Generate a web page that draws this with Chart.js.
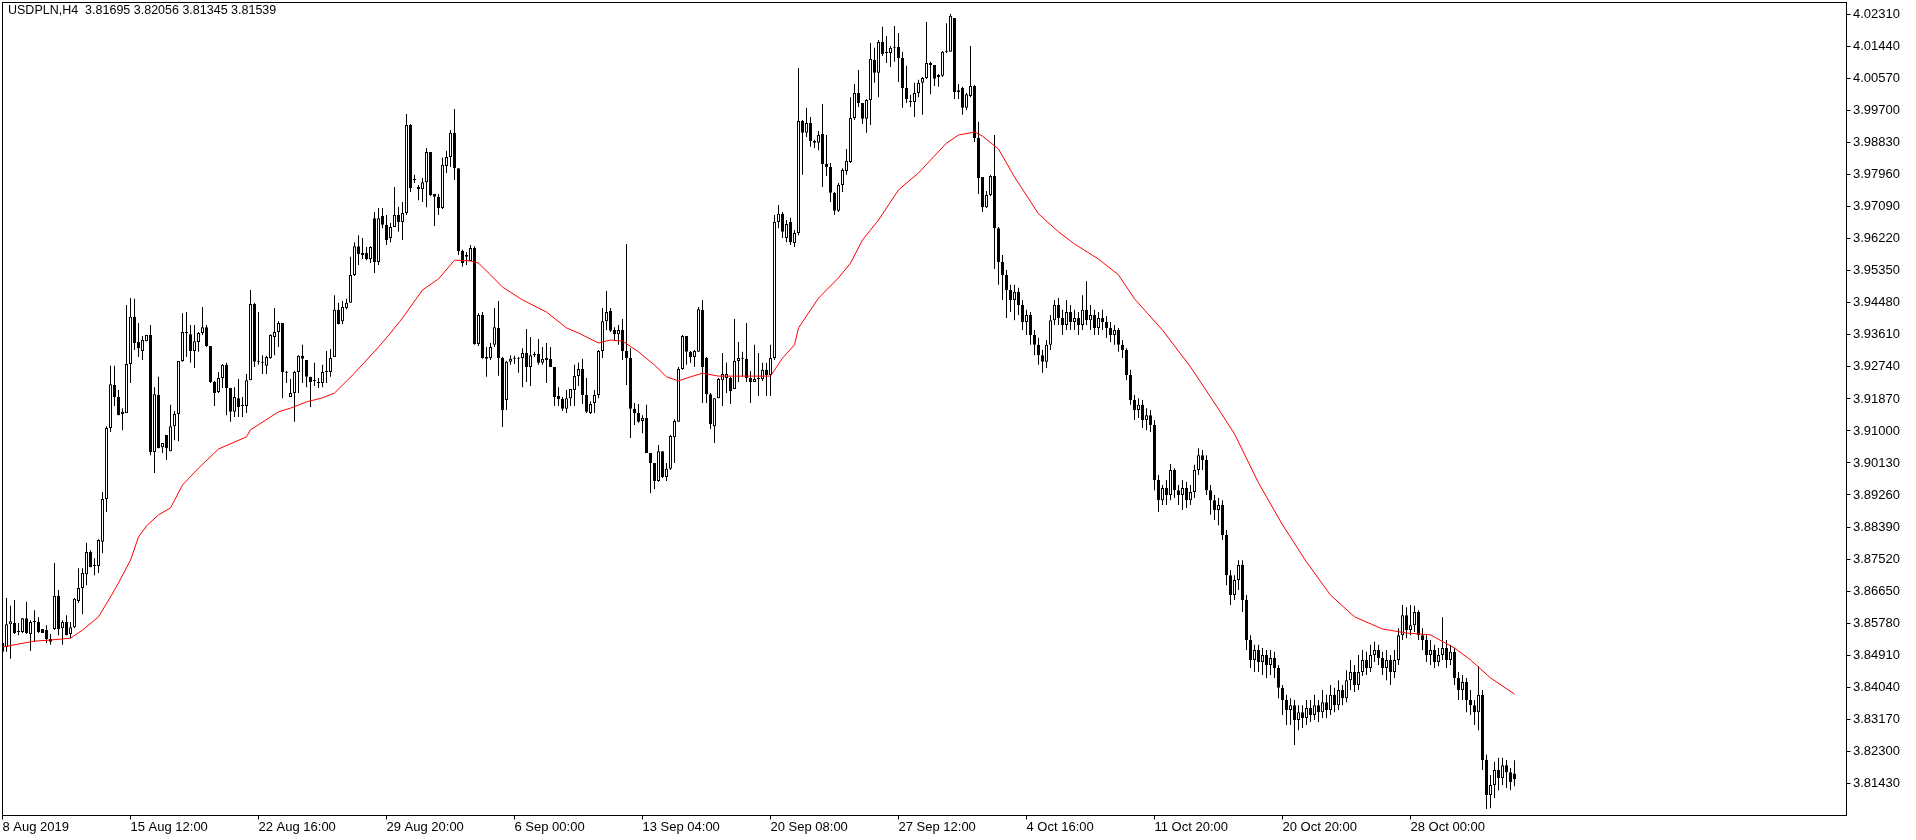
<!DOCTYPE html>
<html>
<head>
<meta charset="utf-8">
<title>USDPLN,H4</title>
<script src="https://cdn.jsdelivr.net/npm/chart.js@4.4.0/dist/chart.umd.min.js"></script>
<style>
  html, body { margin: 0; padding: 0; background: #fff; }
  canvas { display: block; }
</style>
</head>
<body>
<canvas id="chart" width="1916" height="840"></canvas>
<script>
const symbolTitle = "USDPLN,H4  3.81695 3.82056 3.81345 3.81539";

// H4 bars, oldest first (bar 0 sits on the left edge)
const opens = [
  3.8524, 3.8513, 3.8575, 3.8578, 3.8556, 3.8554, 3.8591, 3.8548, 3.8581, 3.8581,
  3.8562, 3.8559, 3.8535, 3.8562, 3.8652, 3.8564, 3.8581, 3.8548, 3.8567, 3.8638,
  3.8673, 3.8711, 3.8771, 3.8733, 3.8733, 3.8799, 3.8915, 3.9108, 3.9225, 3.9192,
  3.9146, 3.9149, 3.9282, 3.9410, 3.9342, 3.9317, 3.9344, 3.9361, 3.9043, 3.9198,
  3.9056, 3.9089, 3.9045, 3.9113, 3.9146, 3.9290, 3.9369, 3.9363, 3.9317, 3.9342,
  3.9366, 3.9382, 3.9331, 3.9233, 3.9206, 3.9244, 3.9280, 3.9217, 3.9152, 3.9189,
  3.9168, 3.9168, 3.9238, 3.9445, 3.9288, 3.9288, 3.9277, 3.9298, 3.9355, 3.9369,
  3.9393, 3.9260, 3.9192, 3.9203, 3.9260, 3.9304, 3.9293, 3.9247, 3.9236, 3.9233,
  3.9230, 3.9260, 3.9260, 3.9301, 3.9429, 3.9398, 3.9434, 3.9448, 3.9524, 3.9602,
  3.9584, 3.9584, 3.9567, 3.9678, 3.9559, 3.9684, 3.9660, 3.9624, 3.9654, 3.9687,
  3.9668, 3.9692, 3.9931, 3.9782, 3.9763, 3.9757, 3.9776, 3.9858, 3.9744, 3.9736,
  3.9706, 3.9820, 3.9844, 3.9910, 3.9814, 3.9589, 3.9578, 3.9562, 3.9597, 3.9336,
  3.9415, 3.9296, 3.9298, 3.9334, 3.9380, 3.9298, 3.9184, 3.9288, 3.9296, 3.9296,
  3.9298, 3.9312, 3.9274, 3.9306, 3.9309, 3.9285, 3.9293, 3.9296, 3.9274, 3.9195,
  3.9187, 3.9160, 3.9189, 3.9211, 3.9249, 3.9268, 3.9198, 3.9149, 3.9176, 3.9198,
  3.9317, 3.9398, 3.9426, 3.9374, 3.9363, 3.9374, 3.9317, 3.9298, 3.9160, 3.9149,
  3.9127, 3.9135, 3.9040, 3.9013, 3.8964, 3.9045, 3.8975, 3.8997, 3.9083, 3.9125,
  3.9268, 3.9358, 3.9315, 3.9301, 3.9315, 3.9429, 3.9298, 3.9200, 3.9113, 3.9189,
  3.9238, 3.9244, 3.9244, 3.9214, 3.9290, 3.9296, 3.9296, 3.9244, 3.9233, 3.9241,
  3.9241, 3.9266, 3.9252, 3.9298, 3.9668, 3.9690, 3.9624, 3.9668, 3.9611, 3.9638,
  3.9942, 3.9910, 3.9937, 3.9888, 3.9883, 3.9907, 3.9825, 3.9817, 3.9747, 3.9698,
  3.9768, 3.9806, 3.9831, 3.9950, 4.0018, 3.9991, 3.9948, 3.9999, 4.0108, 4.0073,
  4.0157, 4.0127, 4.0127, 4.0141, 4.0143, 4.0113, 4.0032, 3.9994, 3.9994, 4.0018,
  4.0046, 4.0059, 4.0100, 4.0094, 4.0062, 4.0065, 4.0130, 4.0130, 4.0222, 4.0026,
  4.0032, 3.9978, 4.0010, 4.0037, 3.9896, 3.9790, 3.9708, 3.9741, 3.9793, 3.9651,
  3.9559, 3.9524, 3.9483, 3.9456, 3.9478, 3.9442, 3.9396, 3.9415, 3.9361, 3.9334,
  3.9306, 3.9288, 3.9334, 3.9401, 3.9442, 3.9407, 3.9388, 3.9423, 3.9396, 3.9407,
  3.9388, 3.9429, 3.9401, 3.9415, 3.9380, 3.9407, 3.9396, 3.9380, 3.9361, 3.9374,
  3.9334, 3.9320, 3.9252, 3.9184, 3.9157, 3.9171, 3.9130, 3.9143, 3.9116, 3.8967,
  3.8912, 3.8945, 3.8926, 3.8994, 3.8939, 3.8926, 3.8945, 3.8912, 3.8934, 3.8994,
  3.9034, 3.9021, 3.8939, 3.8912, 3.8885, 3.8899, 3.8817, 3.8708, 3.8654, 3.8695,
  3.8736, 3.8641, 3.8532, 3.8478, 3.8505, 3.8472, 3.8491, 3.8464, 3.8483, 3.8456,
  3.8402, 3.8369, 3.8342, 3.8355, 3.8315, 3.8336, 3.8320, 3.8347, 3.8328, 3.8355,
  3.8336, 3.8363, 3.8342, 3.8383, 3.8355, 3.8396, 3.8374, 3.8423, 3.8445, 3.8410,
  3.8445, 3.8478, 3.8456, 3.8491, 3.8505, 3.8483, 3.8456, 3.8478, 3.8445, 3.8478,
  3.8545, 3.8599, 3.8559, 3.8572, 3.8608, 3.8545, 3.8532, 3.8491, 3.8505, 3.8472,
  3.8491, 3.8510, 3.8478, 3.8500, 3.8429, 3.8396, 3.8418, 3.8369, 3.8355, 3.8336,
  3.8383, 3.8206, 3.8111, 3.8138, 3.8179, 3.8157, 3.8192, 3.8173, 3.81695
];
const highs = [
  3.8529, 3.8646, 3.8625, 3.8641, 3.8578, 3.8591, 3.8636, 3.8586, 3.8613, 3.8594,
  3.8562, 3.8572, 3.8548, 3.8741, 3.8668, 3.8586, 3.8599, 3.8581, 3.8646, 3.8727,
  3.8727, 3.8796, 3.8776, 3.8754, 3.8806, 3.8934, 3.9113, 3.9277, 3.9277, 3.9211,
  3.9162, 3.9442, 3.9461, 3.9459, 3.9393, 3.9358, 3.9361, 3.9388, 3.9219, 3.9247,
  3.9067, 3.9089, 3.9171, 3.9154, 3.9290, 3.9420, 3.9423, 3.9388, 3.9388, 3.9369,
  3.9437, 3.9388, 3.9331, 3.9236, 3.9260, 3.9282, 3.9285, 3.9217, 3.9219, 3.9241,
  3.9192, 3.9255, 3.9483, 3.9448, 3.9423, 3.9306, 3.9304, 3.9363, 3.9434, 3.9398,
  3.9393, 3.9263, 3.9241, 3.9263, 3.9306, 3.9334, 3.9293, 3.9247, 3.9285, 3.9244,
  3.9280, 3.9317, 3.9323, 3.9469, 3.9448, 3.9453, 3.9459, 3.9573, 3.9613, 3.9632,
  3.9624, 3.9600, 3.9602, 3.9695, 3.9706, 3.9706, 3.9687, 3.9665, 3.9763, 3.9709,
  3.9722, 3.9961, 3.9934, 3.9796, 3.9768, 3.9787, 3.9869, 3.9858, 3.9744, 3.9744,
  3.9842, 3.9861, 3.9918, 3.9975, 3.9814, 3.9592, 3.9586, 3.9605, 3.9602, 3.9420,
  3.9423, 3.9328, 3.9339, 3.9434, 3.9453, 3.9301, 3.9290, 3.9306, 3.9304, 3.9301,
  3.9325, 3.9377, 3.9355, 3.9315, 3.9350, 3.9328, 3.9339, 3.9328, 3.9274, 3.9219,
  3.9192, 3.9211, 3.9214, 3.9280, 3.9285, 3.9296, 3.9244, 3.9181, 3.9211, 3.9320,
  3.9434, 3.9480, 3.9434, 3.9382, 3.9388, 3.9404, 3.9608, 3.9325, 3.9176, 3.9173,
  3.9143, 3.9171, 3.9040, 3.9013, 3.9062, 3.9045, 3.9013, 3.9089, 3.9132, 3.9274,
  3.9361, 3.9358, 3.9317, 3.9320, 3.9437, 3.9456, 3.9301, 3.9203, 3.9189, 3.9244,
  3.9312, 3.9285, 3.9247, 3.9404, 3.9342, 3.9315, 3.9393, 3.9263, 3.9334, 3.9312,
  3.9285, 3.9285, 3.9334, 3.9687, 3.9714, 3.9695, 3.9673, 3.9679, 3.9646, 4.0086,
  3.9945, 3.9978, 3.9953, 3.9891, 3.9915, 3.9988, 3.9904, 3.9828, 3.9749, 3.9774,
  3.9814, 3.9866, 4.0007, 4.0043, 4.0081, 3.9991, 4.0002, 4.0154, 4.0141, 4.0162,
  4.0198, 4.0173, 4.0146, 4.0200, 4.0181, 4.0130, 4.0092, 4.0013, 4.0046, 4.0054,
  4.0062, 4.0211, 4.0103, 4.0094, 4.0070, 4.0132, 4.0208, 4.0233, 4.0222, 4.0043,
  4.0035, 4.0018, 4.0146, 4.0040, 3.9940, 3.9790, 3.9752, 3.9796, 3.9904, 3.9654,
  3.9578, 3.9537, 3.9497, 3.9497, 3.9489, 3.9456, 3.9429, 3.9423, 3.9374, 3.9353,
  3.9320, 3.9347, 3.9415, 3.9456, 3.9461, 3.9429, 3.9456, 3.9442, 3.9429, 3.9423,
  3.9469, 3.9507, 3.9442, 3.9429, 3.9423, 3.9429, 3.9412, 3.9396, 3.9388, 3.9380,
  3.9347, 3.9325, 3.9266, 3.9198, 3.9189, 3.9184, 3.9162, 3.9157, 3.9130, 3.8980,
  3.8953, 3.8967, 3.9010, 3.8999, 3.8953, 3.8967, 3.8961, 3.8953, 3.9008, 3.9053,
  3.9048, 3.9034, 3.8953, 3.8926, 3.8918, 3.8912, 3.8831, 3.8722, 3.8708, 3.8749,
  3.8749, 3.8654, 3.8545, 3.8519, 3.8519, 3.8510, 3.8505, 3.8505, 3.8500, 3.8464,
  3.8410, 3.8383, 3.8374, 3.8369, 3.8355, 3.8355, 3.8369, 3.8369, 3.8383, 3.8369,
  3.8396, 3.8383, 3.8410, 3.8402, 3.8423, 3.8410, 3.8450, 3.8478, 3.8464, 3.8491,
  3.8505, 3.8500, 3.8519, 3.8527, 3.8519, 3.8500, 3.8505, 3.8491, 3.8505, 3.8564,
  3.8627, 3.8621, 3.8627, 3.8625, 3.8613, 3.8564, 3.8545, 3.8532, 3.8519, 3.8510,
  3.8594, 3.8532, 3.8519, 3.8510, 3.8445, 3.8437, 3.8429, 3.8396, 3.8369, 3.8461,
  3.8396, 3.8220, 3.8165, 3.8201, 3.8212, 3.8212, 3.8206, 3.8184, 3.82056
];
const lows = [
  3.8494, 3.8500, 3.8481, 3.8548, 3.8545, 3.8551, 3.8548, 3.8502, 3.8527, 3.8551,
  3.8551, 3.8524, 3.8519, 3.8559, 3.8545, 3.8519, 3.8545, 3.8537, 3.8564, 3.8633,
  3.8602, 3.8681, 3.8730, 3.8708, 3.8714, 3.8768, 3.8880, 3.9097, 3.9168, 3.9143,
  3.9102, 3.9149, 3.9230, 3.9320, 3.9301, 3.9293, 3.9344, 3.9034, 3.8986, 3.9053,
  3.9040, 3.9021, 3.9045, 3.9075, 3.9072, 3.9288, 3.9301, 3.9285, 3.9271, 3.9315,
  3.9361, 3.9328, 3.9230, 3.9168, 3.9203, 3.9217, 3.9143, 3.9125, 3.9138, 3.9138,
  3.9138, 3.9149, 3.9238, 3.9274, 3.9280, 3.9255, 3.9255, 3.9296, 3.9306, 3.9328,
  3.9189, 3.9230, 3.9192, 3.9125, 3.9203, 3.9230, 3.9219, 3.9165, 3.9222, 3.9217,
  3.9219, 3.9230, 3.9247, 3.9301, 3.9390, 3.9390, 3.9431, 3.9448, 3.9521, 3.9551,
  3.9567, 3.9564, 3.9556, 3.9529, 3.9551, 3.9651, 3.9605, 3.9613, 3.9654, 3.9641,
  3.9619, 3.9687, 3.9749, 3.9774, 3.9727, 3.9722, 3.9708, 3.9738, 3.9657, 3.9687,
  3.9703, 3.9801, 3.9817, 3.9782, 3.9578, 3.9546, 3.9551, 3.9562, 3.9334, 3.9331,
  3.9296, 3.9247, 3.9293, 3.9328, 3.9250, 3.9111, 3.9157, 3.9280, 3.9282, 3.9258,
  3.9219, 3.9233, 3.9222, 3.9301, 3.9280, 3.9280, 3.9230, 3.9274, 3.9168, 3.9168,
  3.9154, 3.9149, 3.9168, 3.9168, 3.9222, 3.9173, 3.9149, 3.9146, 3.9149, 3.9189,
  3.9298, 3.9374, 3.9369, 3.9347, 3.9334, 3.9293, 3.9225, 3.9081, 3.9116, 3.9122,
  3.9094, 3.9040, 3.8931, 3.8942, 3.8962, 3.8972, 3.8964, 3.8994, 3.9013, 3.9125,
  3.9266, 3.9280, 3.9285, 3.9274, 3.9315, 3.9176, 3.9176, 3.9105, 3.9067, 3.9189,
  3.9168, 3.9203, 3.9173, 3.9214, 3.9233, 3.9247, 3.9233, 3.9176, 3.9233, 3.9195,
  3.9236, 3.9195, 3.9195, 3.9293, 3.9651, 3.9624, 3.9613, 3.9605, 3.9600, 3.9632,
  3.9796, 3.9899, 3.9872, 3.9869, 3.9863, 3.9763, 3.9793, 3.9722, 3.9687, 3.9695,
  3.9749, 3.9796, 3.9828, 3.9945, 3.9980, 3.9934, 3.9910, 3.9931, 4.0046, 4.0007,
  4.0119, 4.0100, 4.0089, 4.0103, 4.0048, 3.9978, 3.9991, 3.9980, 3.9953, 4.0007,
  3.9959, 4.0057, 4.0015, 4.0037, 4.0035, 4.0062, 4.0127, 4.0130, 4.0002, 4.0002,
  3.9959, 3.9972, 4.0007, 3.9885, 3.9744, 3.9695, 3.9706, 3.9738, 3.9540, 3.9497,
  3.9456, 3.9407, 3.9423, 3.9401, 3.9415, 3.9374, 3.9361, 3.9334, 3.9306, 3.9280,
  3.9258, 3.9271, 3.9320, 3.9388, 3.9388, 3.9361, 3.9374, 3.9374, 3.9374, 3.9361,
  3.9374, 3.9388, 3.9374, 3.9361, 3.9361, 3.9374, 3.9353, 3.9342, 3.9334, 3.9315,
  3.9298, 3.9238, 3.9171, 3.9130, 3.9135, 3.9108, 3.9102, 3.9097, 3.8939, 3.8880,
  3.8899, 3.8899, 3.8912, 3.8918, 3.8899, 3.8885, 3.8891, 3.8899, 3.8918, 3.8980,
  3.8994, 3.8926, 3.8872, 3.8858, 3.8844, 3.8804, 3.8681, 3.8627, 3.8641, 3.8668,
  3.8608, 3.8505, 3.8456, 3.8445, 3.8445, 3.8437, 3.8429, 3.8437, 3.8429, 3.8374,
  3.8328, 3.8301, 3.8301, 3.8247, 3.8287, 3.8293, 3.8301, 3.8309, 3.8315, 3.8309,
  3.8320, 3.8320, 3.8328, 3.8336, 3.8342, 3.8355, 3.8363, 3.8396, 3.8391, 3.8396,
  3.8434, 3.8437, 3.8445, 3.8472, 3.8464, 3.8437, 3.8423, 3.8410, 3.8429, 3.8464,
  3.8532, 3.8537, 3.8545, 3.8554, 3.8532, 3.8505, 3.8472, 3.8464, 3.8456, 3.8461,
  3.8478, 3.8456, 3.8464, 3.8410, 3.8369, 3.8369, 3.8336, 3.8328, 3.8301, 3.8287,
  3.8179, 3.8073, 3.8075, 3.8103, 3.8124, 3.8138, 3.8130, 3.8124, 3.81345
];
const closes = [
  3.8500, 3.8575, 3.8583, 3.8551, 3.8554, 3.8591, 3.8551, 3.8581, 3.8581, 3.8554,
  3.8551, 3.8535, 3.8527, 3.8652, 3.8562, 3.8581, 3.8545, 3.8567, 3.8644, 3.8673,
  3.8714, 3.8771, 3.8730, 3.8733, 3.8804, 3.8915, 3.9108, 3.9227, 3.9192, 3.9143,
  3.9152, 3.9282, 3.9410, 3.9339, 3.9325, 3.9347, 3.9361, 3.9043, 3.9200, 3.9053,
  3.9067, 3.9053, 3.9113, 3.9146, 3.9290, 3.9369, 3.9366, 3.9317, 3.9344, 3.9366,
  3.9382, 3.9331, 3.9233, 3.9203, 3.9244, 3.9280, 3.9217, 3.9152, 3.9192, 3.9165,
  3.9168, 3.9238, 3.9445, 3.9288, 3.9288, 3.9285, 3.9301, 3.9361, 3.9369, 3.9393,
  3.9260, 3.9258, 3.9203, 3.9260, 3.9304, 3.9296, 3.9247, 3.9233, 3.9236, 3.9230,
  3.9260, 3.9263, 3.9298, 3.9429, 3.9390, 3.9437, 3.9448, 3.9524, 3.9602, 3.9581,
  3.9578, 3.9567, 3.9600, 3.9559, 3.9678, 3.9660, 3.9619, 3.9654, 3.9687, 3.9668,
  3.9692, 3.9931, 3.9760, 3.9782, 3.9757, 3.9776, 3.9858, 3.9741, 3.9736, 3.9706,
  3.9823, 3.9844, 3.9910, 3.9814, 3.9589, 3.9556, 3.9573, 3.9597, 3.9336, 3.9415,
  3.9298, 3.9301, 3.9328, 3.9382, 3.9298, 3.9157, 3.9288, 3.9296, 3.9298, 3.9298,
  3.9312, 3.9274, 3.9306, 3.9309, 3.9285, 3.9296, 3.9298, 3.9274, 3.9192, 3.9187,
  3.9160, 3.9189, 3.9214, 3.9249, 3.9268, 3.9198, 3.9152, 3.9173, 3.9198, 3.9317,
  3.9398, 3.9423, 3.9372, 3.9363, 3.9374, 3.9317, 3.9298, 3.9160, 3.9149, 3.9125,
  3.9135, 3.9040, 3.9013, 3.8964, 3.9045, 3.8975, 3.8997, 3.9086, 3.9127, 3.9268,
  3.9358, 3.9315, 3.9301, 3.9317, 3.9431, 3.9274, 3.9200, 3.9119, 3.9189, 3.9241,
  3.9255, 3.9255, 3.9208, 3.9290, 3.9298, 3.9298, 3.9244, 3.9233, 3.9241, 3.9241,
  3.9266, 3.9252, 3.9298, 3.9668, 3.9690, 3.9641, 3.9662, 3.9613, 3.9638, 3.9942,
  3.9910, 3.9937, 3.9888, 3.9883, 3.9904, 3.9825, 3.9817, 3.9747, 3.9698, 3.9768,
  3.9809, 3.9834, 3.9950, 4.0018, 3.9991, 3.9948, 3.9999, 4.0111, 4.0073, 4.0157,
  4.0124, 4.0127, 4.0141, 4.0143, 4.0113, 4.0032, 4.0002, 3.9994, 4.0018, 4.0046,
  4.0059, 4.0100, 4.0094, 4.0057, 4.0067, 4.0130, 4.0132, 4.0228, 4.0021, 4.0021,
  3.9978, 4.0015, 4.0037, 3.9896, 3.9787, 3.9708, 3.9741, 3.9793, 3.9651, 3.9559,
  3.9524, 3.9483, 3.9456, 3.9478, 3.9442, 3.9396, 3.9415, 3.9361, 3.9334, 3.9306,
  3.9288, 3.9334, 3.9401, 3.9442, 3.9407, 3.9388, 3.9423, 3.9396, 3.9407, 3.9388,
  3.9429, 3.9401, 3.9415, 3.9380, 3.9407, 3.9396, 3.9380, 3.9361, 3.9374, 3.9334,
  3.9320, 3.9252, 3.9184, 3.9157, 3.9171, 3.9130, 3.9143, 3.9116, 3.8967, 3.8912,
  3.8945, 3.8926, 3.8994, 3.8939, 3.8926, 3.8945, 3.8912, 3.8934, 3.8994, 3.9034,
  3.9021, 3.8939, 3.8912, 3.8885, 3.8899, 3.8817, 3.8708, 3.8654, 3.8695, 3.8736,
  3.8641, 3.8532, 3.8478, 3.8505, 3.8472, 3.8491, 3.8464, 3.8483, 3.8456, 3.8402,
  3.8369, 3.8342, 3.8355, 3.8315, 3.8336, 3.8320, 3.8347, 3.8328, 3.8355, 3.8336,
  3.8363, 3.8342, 3.8383, 3.8355, 3.8396, 3.8374, 3.8423, 3.8445, 3.8410, 3.8445,
  3.8478, 3.8456, 3.8491, 3.8505, 3.8483, 3.8456, 3.8478, 3.8445, 3.8478, 3.8545,
  3.8599, 3.8559, 3.8572, 3.8608, 3.8545, 3.8532, 3.8491, 3.8505, 3.8472, 3.8491,
  3.8510, 3.8478, 3.8500, 3.8429, 3.8396, 3.8418, 3.8369, 3.8355, 3.8336, 3.8383,
  3.8206, 3.8111, 3.8138, 3.8179, 3.8157, 3.8192, 3.8173, 3.8146, 3.81539
];

// moving average (red), read at these bar numbers
const maBars = [
  0, 8, 12, 17, 20, 24, 27, 29, 32, 34, 36, 39, 42, 45, 49, 54, 61, 62, 69, 72,
  76, 80, 83, 88, 94, 97, 100, 105, 109, 113, 117, 119, 122, 125, 130, 136, 141, 144, 149, 152,
  155, 159, 163, 166, 169, 172, 175, 179, 183, 192, 195, 198, 199, 204, 209, 212, 215, 219, 224, 229,
  232, 236, 239, 243, 245, 249, 253, 259, 264, 268, 274, 279, 283, 290, 297, 303, 308, 314, 320, 326,
  332, 338, 345, 351, 357, 363, 367, 372, 378
];
const maValues = [
  3.8513, 3.8529, 3.8532, 3.8537, 3.8559, 3.8595, 3.8649, 3.8687, 3.8749, 3.8812,
  3.8842, 3.8872, 3.8891, 3.8953, 3.8999, 3.9051, 3.9084, 3.9103, 3.9152, 3.9162,
  3.9179, 3.9190, 3.9203, 3.9257, 3.9328, 3.9366, 3.9407, 3.9483, 3.9513, 3.9564,
  3.9562, 3.9556, 3.9524, 3.9491, 3.9456, 3.9423, 3.9380, 3.9366, 3.9339, 3.9347,
  3.9344, 3.9315, 3.9279, 3.9247, 3.9236, 3.9247, 3.9257, 3.9249, 3.9249, 3.9249,
  3.9298, 3.9334, 3.9380, 3.9461, 3.9516, 3.9556, 3.9619, 3.9673, 3.9755, 3.9801,
  3.9836, 3.9882, 3.9904, 3.9912, 3.9901, 3.9866, 3.9790, 3.9690, 3.9641, 3.9608,
  3.9567, 3.9524, 3.9459, 3.9374, 3.9274, 3.9176, 3.9092, 3.8959, 3.8845, 3.8744,
  3.8654, 3.8595, 3.8562, 3.8551, 3.8546, 3.8510, 3.8478, 3.8429, 3.8385
];

const xTickBars = [0, 32, 64, 96, 128, 160, 192, 224, 256, 288, 320, 352];
const xTickLabels = [
  "8 Aug 2019", "15 Aug 12:00", "22 Aug 16:00", "29 Aug 20:00", "6 Sep 00:00", "13 Sep 04:00",
  "20 Sep 08:00", "27 Sep 12:00", "4 Oct 16:00", "11 Oct 20:00", "20 Oct 20:00", "28 Oct 00:00"
];
const yTicks = [
  3.81430, 3.82300, 3.83170, 3.84040, 3.84910, 3.85780, 3.86650, 3.87520, 3.88390,
  3.89260, 3.90130, 3.91000, 3.91870, 3.92740, 3.93610, 3.94480, 3.95350, 3.96220,
  3.97090, 3.97960, 3.98830, 3.99700, 4.00570, 4.01440, 4.02310
];

const bodies = opens.map((o, i) => ({ x: i, y: [o, closes[i]] }));
const wicks = highs.map((h, i) => ({ x: i, y: [lows[i], h] }));
const bodyColors = opens.map((o, i) => (closes[i] >= o ? "#ffffff" : "#000000"));
const maPoints = maBars.map((b, i) => ({ x: b, y: maValues[i] }));

const labelFont = { family: "'Liberation Sans', Arial, sans-serif", size: 13 };

// white page + black frame round the plot + symbol line in the corner
const frame = {
  id: "frame",
  beforeDraw(chart) {
    const ctx = chart.ctx;
    ctx.save();
    ctx.fillStyle = "#fff";
    ctx.fillRect(0, 0, chart.width, chart.height);
    ctx.restore();
  },
  afterDraw(chart) {
    const { ctx, chartArea: a } = chart;
    ctx.save();
    ctx.strokeStyle = "#000";
    ctx.lineWidth = 1;
    ctx.strokeRect(a.left, a.top, a.right - a.left, a.bottom - a.top);
    ctx.fillStyle = "#000";
    ctx.font = "12.5px 'Liberation Sans', Arial, sans-serif";
    ctx.textBaseline = "top";
    ctx.textAlign = "left";
    ctx.fillText(symbolTitle, 8, 4);
    ctx.restore();
  }
};

new Chart(document.getElementById("chart"), {
  type: "bar",
  data: {
    datasets: [
      {
        type: "line",
        data: maPoints,
        borderColor: "#ff0000",
        borderWidth: 1,
        pointRadius: 0,
        tension: 0,
        fill: false,
        order: 0
      },
      {
        data: bodies,
        backgroundColor: bodyColors,
        borderColor: "#000000",
        borderWidth: 1,
        borderSkipped: false,
        barThickness: 3,
        minBarLength: 1,
        grouped: false,
        inflateAmount: 0,
        order: 1
      },
      {
        data: wicks,
        backgroundColor: "#000000",
        borderWidth: 0,
        barThickness: 1,
        grouped: false,
        inflateAmount: 0,
        order: 2
      }
    ]
  },
  options: {
    responsive: false,
    animation: false,
    devicePixelRatio: 1,
    events: [],
    layout: { autoPadding: false, padding: { left: 2.5, top: 2.5, right: 0, bottom: 0 } },
    plugins: { legend: { display: false }, tooltip: { enabled: false }, title: { display: false } },
    scales: {
      x: {
        type: "linear",
        min: 0,
        max: 461,
        offset: false,
        bounds: "data",
        afterBuildTicks: (axis) => { axis.ticks = xTickBars.map((v) => ({ value: v })); },
        afterFit: (axis) => {
          axis.height = 24.5;
          axis.paddingLeft = 0;
          axis.paddingRight = 0;
        },
        grid: { display: true, offset: false, drawOnChartArea: false, drawTicks: true, tickLength: 4, color: "#000", lineWidth: 1 },
        border: { display: false },
        ticks: {
          autoSkip: false,
          maxRotation: 0,
          minRotation: 0,
          align: "start",
          padding: 0,
          color: "#000",
          font: labelFont,
          callback: (v, i) => xTickLabels[i]
        }
      },
      y: {
        type: "linear",
        position: "right",
        min: 3.80552,
        max: 4.02641,
        bounds: "data",
        afterBuildTicks: (axis) => { axis.ticks = yTicks.map((v) => ({ value: v })); },
        afterFit: (axis) => {
          axis.width = 69.5;
          axis.paddingTop = 0;
          axis.paddingBottom = 0;
        },
        grid: { display: true, drawOnChartArea: false, drawTicks: true, tickLength: 4, color: "#000", lineWidth: 1 },
        border: { display: false },
        ticks: {
          autoSkip: false,
          padding: 2.5,
          color: "#000",
          font: labelFont,
          callback: (v) => v.toFixed(5)
        }
      }
    }
  },
  plugins: [frame]
});
</script>
</body>
</html>
